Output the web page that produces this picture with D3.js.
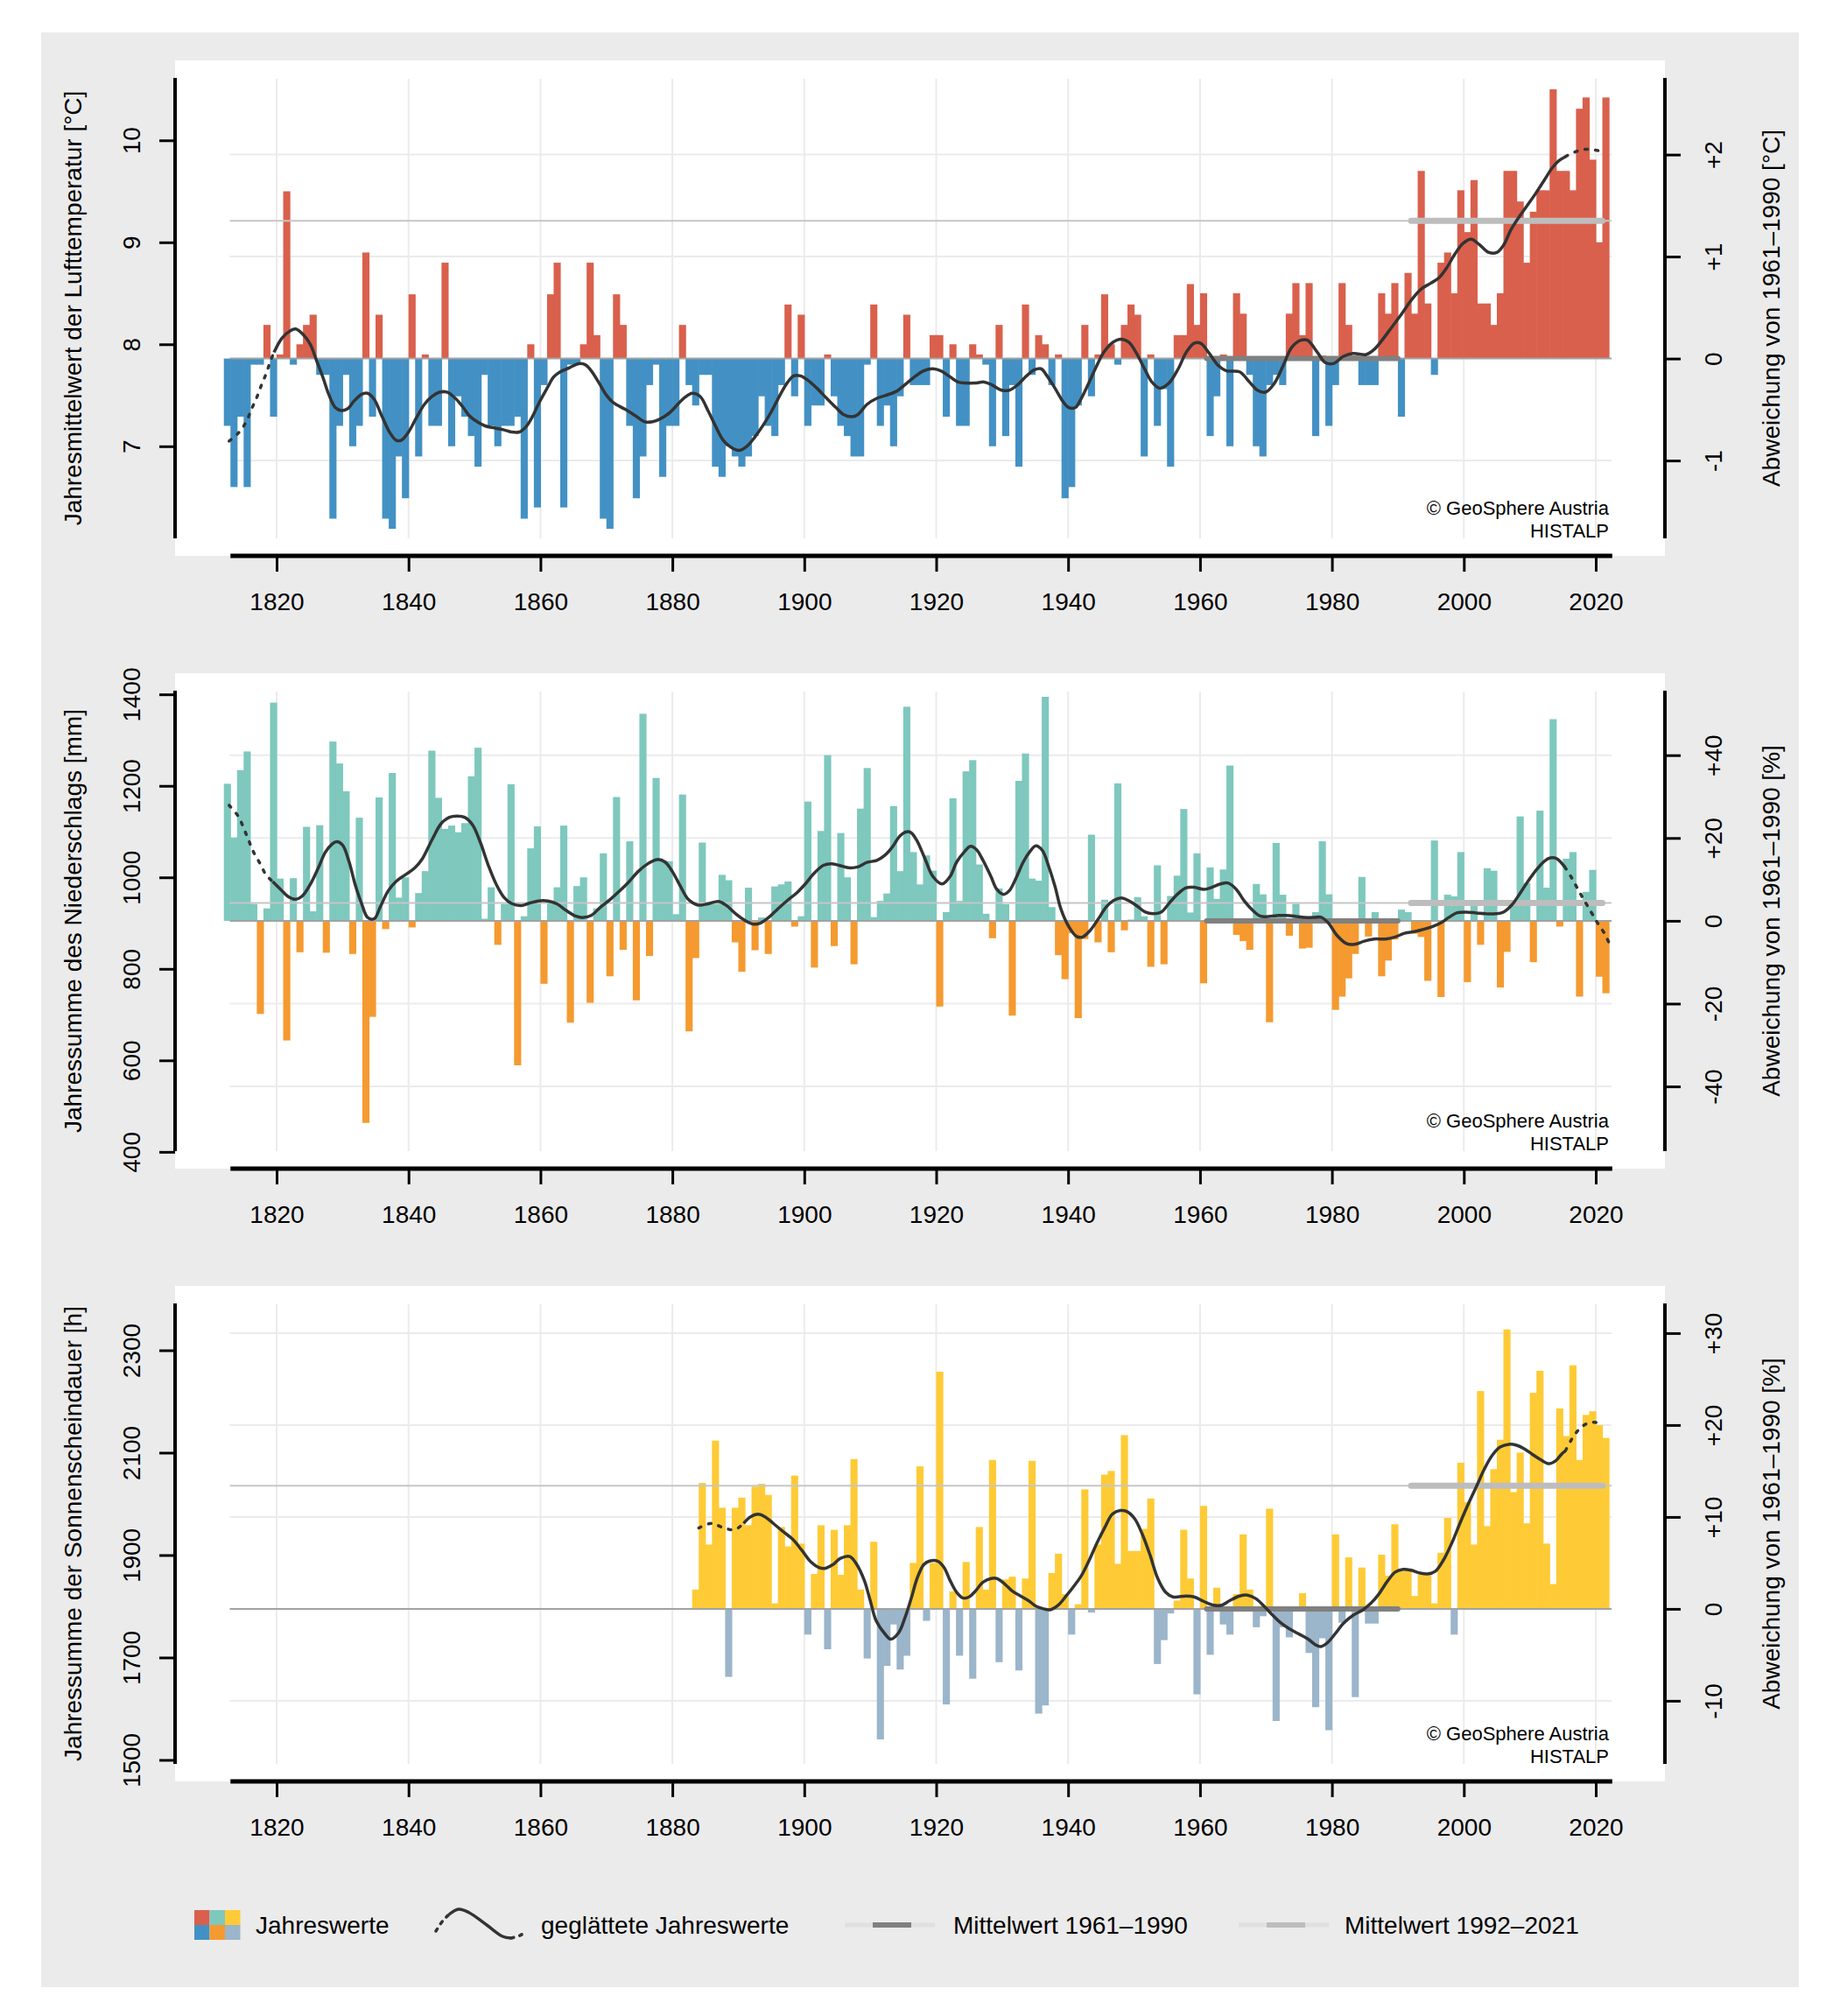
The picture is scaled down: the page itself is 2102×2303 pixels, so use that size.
<!DOCTYPE html>
<html><head><meta charset="utf-8">
<script src="https://cdn.jsdelivr.net/npm/d3@7"></script>
<style>body{margin:0;background:#fff} svg{display:block}</style>
</head><body>
<svg id="c" width="2102" height="2303"></svg>
<script>
// ---------------- DATA ----------------
const xTickYears = [1820,1840,1860,1880,1900,1920,1940,1960,1980,2000,2020];

// Temperature: deviation from 1961-1990 [°C], years 1813..2022
const tempFirstYear = 1813;
const tempAnom = [
 -0.66,-1.26,-0.57,-1.26,-0.06,-0.06,0.33,
 -0.57,0.04,1.64,-0.06,0.14,0.33,0.43,-0.16,-0.16,-1.57,
 -0.66,-0.16,-0.86,-0.66,1.04,-0.57,0.43,-1.57,-1.67,-0.96,
 -1.37,0.63,-0.96,0.04,-0.66,-0.66,0.94,-0.86,-0.37,-0.57,
 -0.76,-1.06,-0.16,-0.66,-0.86,-0.66,-0.66,-0.57,-1.57,0.14,
 -1.46,-0.26,0.63,0.94,-1.46,-0.06,-0.06,0.14,0.94,0.23,
 -1.57,-1.67,0.63,0.33,-0.66,-1.37,-0.96,-0.26,-0.06,-1.16,
 -0.66,-0.66,0.33,-0.26,-0.46,-0.16,-0.16,-1.06,-1.16,-0.86,
 -0.96,-1.06,-0.96,-0.76,-0.37,-0.66,-0.76,-0.26,0.53,-0.37,
 0.43,-0.66,-0.46,-0.46,0.04,-0.37,-0.66,-0.76,-0.96,-0.96,
 -0.06,0.53,-0.66,-0.46,-0.86,-0.37,0.43,-0.26,-0.26,-0.26,
 0.23,0.23,-0.57,0.14,-0.66,-0.66,0.14,0.04,-0.06,-0.86,
 0.33,-0.76,-0.26,-1.06,0.53,-0.16,0.23,0.14,-0.26,0.04,
 -1.37,-1.26,-0.46,0.33,-0.37,0.04,0.63,0.14,-0.06,0.33,
 0.53,0.43,-0.96,0.04,-0.66,-0.30,-1.06,0.23,0.23,0.73,
 0.33,0.64,-0.76,-0.37,0.04,-0.86,0.64,0.44,-0.16,-0.86,
 -0.96,-0.26,-0.16,-0.26,0.44,0.74,0.23,0.74,-0.76,0.03,
 -0.66,-0.26,0.74,0.33,0.03,-0.26,-0.26,-0.26,0.64,0.44,
 0.74,-0.57,0.84,0.44,1.84,0.54,-0.16,0.94,1.04,0.64,
 1.65,1.24,1.75,0.54,0.54,0.33,0.64,1.84,1.84,1.54,
 0.94,1.44,1.65,1.65,2.64,1.84,1.84,1.65,2.45,2.56,
 1.95,1.14,2.56];
const tempBase = 7.86;        // 1961-1990 mean [°C]
const tempRecentMean = 1.35;  // 1992-2021 mean, deviation
const tempSmooth = [
 [1812.8,-0.81],[1814.2,-0.73],[1815.4,-0.62],[1816.1,-0.51],[1817.0,-0.38],[1817.7,-0.26],[1818.4,-0.15],[1819.1,-0.02],
 [1819.6,0.06],[1820.8,0.20],[1822.0,0.27],[1822.9,0.29],[1824.1,0.23],[1825.1,0.14],[1826.0,-0.01],[1827.0,-0.18],
 [1827.9,-0.35],[1828.9,-0.48],[1829.8,-0.51],[1830.8,-0.49],[1831.7,-0.42],[1832.9,-0.35],[1833.8,-0.34],[1834.8,-0.40],
 [1836.0,-0.57],[1837.2,-0.73],[1838.1,-0.80],[1838.9,-0.80],[1840.0,-0.72],[1841.2,-0.58],[1842.4,-0.45],[1843.6,-0.37],
 [1844.7,-0.33],[1845.9,-0.33],[1847.1,-0.39],[1848.3,-0.48],[1849.2,-0.56],[1850.4,-0.62],[1851.6,-0.66],[1853.0,-0.68],
 [1854.5,-0.70],[1855.6,-0.72],[1856.8,-0.72],[1857.8,-0.67],[1858.7,-0.58],[1859.9,-0.42],[1861.1,-0.28],[1862.0,-0.18],
 [1863.0,-0.13],[1864.4,-0.09],[1865.8,-0.05],[1866.8,-0.06],[1867.7,-0.12],[1868.9,-0.24],[1869.9,-0.35],[1871.0,-0.43],
 [1872.9,-0.50],[1874.6,-0.57],[1875.8,-0.62],[1877.0,-0.62],[1878.2,-0.59],[1879.6,-0.53],[1880.8,-0.45],[1881.9,-0.38],
 [1883.0,-0.34],[1884.2,-0.37],[1885.4,-0.51],[1886.6,-0.67],[1887.7,-0.80],[1888.9,-0.87],[1890.1,-0.90],[1891.3,-0.86],
 [1892.5,-0.77],[1893.9,-0.64],[1895.1,-0.51],[1896.3,-0.36],[1897.5,-0.23],[1898.4,-0.17],[1899.4,-0.17],[1900.5,-0.21],
 [1901.9,-0.29],[1903.4,-0.39],[1904.8,-0.48],[1906.0,-0.55],[1907.2,-0.57],[1908.1,-0.55],[1909.5,-0.45],[1911.0,-0.39],
 [1912.4,-0.36],[1914.0,-0.32],[1915.2,-0.26],[1916.7,-0.18],[1918.1,-0.12],[1919.5,-0.10],[1920.7,-0.12],[1921.9,-0.17],
 [1923.3,-0.23],[1924.5,-0.24],[1925.9,-0.24],[1927.3,-0.23],[1928.5,-0.26],[1929.9,-0.31],[1931.1,-0.31],[1932.3,-0.26],
 [1933.7,-0.17],[1934.9,-0.11],[1935.9,-0.10],[1936.8,-0.17],[1938.0,-0.29],[1939.2,-0.42],[1940.1,-0.48],[1941.1,-0.48],
 [1942.0,-0.39],[1943.2,-0.23],[1944.2,-0.09],[1945.4,0.06],[1946.8,0.16],[1948.0,0.19],[1949.2,0.16],[1950.3,0.06],
 [1951.5,-0.09],[1952.7,-0.23],[1953.9,-0.29],[1955.3,-0.24],[1956.7,-0.10],[1957.9,0.06],[1959.1,0.15],[1960.1,0.15],
 [1961.3,0.06],[1962.8,-0.07],[1964.0,-0.12],[1966.0,-0.13],[1967.5,-0.23],[1968.7,-0.31],[1969.9,-0.33],[1971.2,-0.25],
 [1972.6,-0.07],[1973.9,0.11],[1975.3,0.18],[1976.3,0.18],[1977.8,0.06],[1979.0,-0.04],[1980.2,-0.05],[1981.7,0.02],
 [1983.2,0.05],[1985.2,0.04],[1986.4,0.09],[1987.6,0.18],[1989.1,0.31],[1990.6,0.44],[1992.0,0.57],[1993.5,0.68],
 [1995.0,0.74],[1996.2,0.79],[1997.4,0.89],[1998.7,1.03],[1999.9,1.13],[2001.1,1.17],[2002.3,1.12],[2003.8,1.04],
 [2005.0,1.04],[2006.0,1.11],[2007.2,1.27],[2008.5,1.40],[2009.7,1.51],[2010.9,1.62],[2012.2,1.75],[2013.4,1.87],
 [2014.4,1.94],[2015.4,1.98],[2016.6,2.02],[2018.1,2.05],[2019.3,2.05],[2021.0,2.03]];
const tempSolid = [1819.6, 2015.4];
const tempLeftTicks = [7,8,9,10];
const tempRightTicks = [-1,0,1,2];

// Precipitation: deviation from 1961-1990 [%], years 1813..2022
const precFirstYear = 1813;
const precAnom = [
 33.1,20.1,36.4,40.9,4.1,-22.5,3.0,
 52.7,10.2,-28.9,10.3,-7.6,22.7,2.3,23.1,-7.7,43.3,
 38.0,31.3,-8.0,24.9,-48.8,-23.2,29.8,-2.0,35.7,5.6,
 10.5,-1.6,6.7,12,41.1,29.7,22.2,23.0,21.4,23.6,
 34.9,41.8,0.5,8.1,-5.8,4.1,33.0,-34.9,1.1,17.5,
 22.8,-15.2,4.5,8.1,23.0,-24.6,8.4,10.5,-19.8,3,
 16.3,-13.4,29.9,-7.0,19.2,-19.2,50.0,-8.5,34.5,14.4,
 14.4,1.6,30.5,-26.7,-9.0,18.9,4.5,4.1,11.1,9.8,
 -5.2,-12.3,8.0,-7.1,0.8,-8.0,8.3,8.8,9.5,-1.4,
 1.1,28.8,-11.3,21.7,40.0,-6.1,21.2,10.5,-10.5,27.1,
 36.9,0.9,4.8,6.6,27.7,12,51.7,16.6,8.8,15.8,
 12.1,-20.7,2.1,29.6,4.8,36.1,38.8,13.6,1.7,-4.2,
 7.8,4.0,-22.9,33.8,40.4,10.2,9.7,54.1,3.3,-8.3,
 -14.1,-3.0,-23.5,-4.4,20.8,-5.2,5.1,-7.6,33.2,-2.3,
 0.3,5.7,1.1,-11.1,13.4,-10.5,6,10.9,27.0,2,
 16.3,-15.1,12.9,5.3,12.4,37.5,-3.4,-4.9,-7.0,8.9,
 6.4,-24.5,18.8,6.3,-3.6,4.1,-6.7,-6.5,2.1,19.2,
 6.4,-21.5,-18.3,-13.9,-8,10.6,-3.8,2.1,-13.4,-9.6,
 -4.5,2.7,2.1,-3.1,-3.9,-14.5,19.4,-18.4,6.3,5.9,
 16.6,-14.8,3.6,-5.8,12.7,12.1,-16.1,-7.5,4.1,25.2,
 9.1,-10.0,26.6,8.0,48.7,-1.4,15.0,16.6,-18.3,7.0,
 12.3,-13.5,-17.5];
const precBase = 905;         // 1961-1990 mean [mm]
const precRecentMean = 4.3;
const precSmooth = [
 [1812.8,27.9],[1814.2,25.2],[1815.1,22.0],[1815.8,19.3],[1816.5,16.6],[1817.5,13.8],[1818.4,11.1],[1819.4,9.5],
 [1820.6,7.6],[1821.8,5.8],[1822.9,5.2],[1823.9,6.0],[1825.1,8.8],[1826.3,12.7],[1827.4,16.6],[1828.4,18.5],
 [1829.1,19.1],[1830.0,18.3],[1831.0,14.2],[1831.9,8.8],[1832.9,4.1],[1833.8,0.8],[1834.8,0.5],[1835.7,3.3],
 [1836.9,7.2],[1838.1,9.5],[1839.5,11.1],[1840.9,12.7],[1842.1,15.0],[1843.6,19.7],[1845.0,23.6],[1846.2,25.0],
 [1847.3,25.3],[1848.5,25.0],[1849.7,23.2],[1850.9,18.9],[1852.1,13.4],[1853.3,8.8],[1854.5,5.6],[1855.6,4.2],
 [1857.1,3.7],[1858.2,4.2],[1859.7,4.8],[1861.1,4.8],[1862.5,4.1],[1863.9,2.5],[1865.4,1.1],[1866.5,0.8],
 [1867.7,1.3],[1869.1,3.3],[1870.6,5.2],[1872.0,7.2],[1873.4,9.4],[1874.8,11.9],[1876.3,13.8],[1877.7,14.8],
 [1878.9,14.2],[1880.0,11.9],[1881.2,8.4],[1882.4,5.2],[1883.9,3.8],[1885.4,4.1],[1887.0,4.7],[1888.2,3.7],
 [1889.6,1.7],[1891.1,0.0],[1892.3,-0.8],[1893.4,-0.5],[1894.6,0.8],[1896.0,2.9],[1897.5,5.0],[1898.9,6.8],
 [1900.1,8.8],[1901.5,11.5],[1902.9,13.4],[1904.1,13.8],[1905.3,13.4],[1906.7,12.8],[1908.1,13.0],[1909.5,14.1],
 [1911.0,14.6],[1912.2,15.8],[1913.3,17.7],[1914.5,20.5],[1915.5,21.5],[1916.2,21.3],[1917.1,19.3],[1918.3,15.0],
 [1919.5,10.7],[1920.9,8.9],[1922.1,10.7],[1923.1,14.2],[1924.3,16.7],[1925.2,18.0],[1926.1,17.2],[1927.1,14.6],
 [1928.3,10.7],[1929.2,7.6],[1930.2,6.4],[1931.1,7.3],[1932.1,10.3],[1933.2,14.2],[1934.2,16.7],[1935.1,18.1],
 [1936.1,17.0],[1937.0,13.4],[1938.0,8.4],[1938.9,2.9],[1940.1,-1.4],[1941.3,-3.8],[1942.2,-3.9],[1943.4,-2.2],
 [1944.6,0.5],[1945.8,3.4],[1947.0,5.0],[1948.2,5.5],[1949.4,4.7],[1950.6,3.4],[1951.7,2.1],[1952.9,1.7],
 [1954.1,2.1],[1955.4,4.4],[1956.7,6.6],[1957.9,8.0],[1959.1,8.1],[1960.6,7.6],[1961.8,8.1],[1963.1,8.9],
 [1964.3,9.1],[1965.5,7.6],[1966.7,4.8],[1968.0,2.5],[1969.2,1.1],[1970.7,1.1],[1971.9,1.3],[1973.1,1.3],
 [1974.4,1.1],[1975.8,0.8],[1977.3,0.8],[1978.3,0.9],[1979.5,-0.6],[1980.7,-3.4],[1982.2,-5.5],[1983.4,-5.7],
 [1984.9,-4.9],[1986.4,-4.4],[1988.1,-4.4],[1989.6,-3.9],[1991.0,-3.0],[1992.5,-2.6],[1994.0,-2.0],[1995.2,-1.4],
 [1996.5,-0.5],[1997.7,0.8],[1998.9,1.9],[2000.4,2.1],[2001.9,1.9],[2003.3,1.7],[2004.8,1.7],[2006.0,2.1],
 [2007.3,3.9],[2008.5,6.6],[2009.7,9.5],[2011.0,12.3],[2012.2,14.4],[2013.1,15.2],[2014.1,15.0],[2015.3,13.0],
 [2016.3,10.5],[2017.3,7.6],[2018.3,4.8],[2019.3,2.1],[2020.3,-0.6],[2021.3,-3.0],[2022.0,-5.3]];
const precSolid = [1819.4, 2015.3];
const precLeftTicks = [400,600,800,1000,1200,1400];
const precRightTicks = [-40,-20,0,20,40];

// Sunshine: deviation from 1961-1990 [%], years 1884..2022
const sunFirstYear = 1884;
const sunAnom = [
 2.1,13.7,7.0,18.3,11.0,-7.4,
 11.0,12.1,9.1,13.3,13.6,12.4,0.6,8.9,6.8,14.5,
 7.1,-2.8,3.8,9.1,-4.4,8.6,3.7,9.1,16.3,2.1,
 -5.4,7.3,-14.2,-6.2,-1.7,-6.6,-5.1,5.0,15.5,-1.3,
 5.0,25.8,-10.4,1.9,-5.1,5.1,-7.6,8.9,2.1,16.2,
 -5.8,3.2,3.5,-6.7,3.3,16.1,-11.4,-10.5,3.9,6.0,
 1.6,-2.8,0.5,13.0,-0.4,7.0,14.6,15.0,4.9,18.9,
 6.3,6.3,8.7,12.0,-6.0,-3.4,-0.5,0.9,8.6,3.3,
 -9.3,11.2,-5.0,2.3,-1.7,-2.8,1.6,8.1,2.1,-2.0,
 -0.8,10.9,-12.2,-2.0,-3.1,0.2,1.7,-4.8,-10.7,-3.2,
 -13.2,8.1,-1.5,5.6,-9.6,4.5,-1.6,-1.6,5.9,3.6,
 9.2,4.1,4.4,1.4,3.7,3.7,0.6,6.1,9.9,-2.8,
 15.9,11.6,7.0,23.7,9.0,15.2,18.4,30.4,12.7,17.0,
 9.3,23.5,25.9,7.1,2.7,21.8,18.8,26.5,16.2,21.1,
 21.5,20.0,18.6];
const sunBase = 1795;         // 1961-1990 mean [h]
const sunRecentMean = 13.4;
const sunSmooth = [
 [1884.0,8.8],[1885.9,9.3],[1887.5,8.9],[1889.4,8.6],[1890.8,9.3],[1891.8,10.0],[1893.0,10.3],[1894.1,10.0],
 [1895.3,9.3],[1896.8,8.4],[1898.2,7.6],[1899.6,6.4],[1901.0,5.1],[1902.2,4.5],[1903.1,4.4],[1904.3,4.8],
 [1905.5,5.5],[1906.9,5.7],[1907.9,4.9],[1909.1,3.1],[1910.0,0.9],[1910.9,-1.3],[1912.2,-2.7],[1913.1,-3.3],
 [1914.3,-2.6],[1915.2,-1.1],[1916.2,1.1],[1917.1,3.3],[1918.1,4.8],[1919.0,5.2],[1920.2,5.2],[1921.2,4.5],
 [1922.1,3.1],[1923.1,1.8],[1924.0,1.2],[1925.0,1.3],[1925.9,1.9],[1927.1,2.9],[1928.3,3.3],[1929.2,3.3],
 [1930.4,2.7],[1931.6,1.9],[1932.8,1.4],[1934.0,0.9],[1935.1,0.3],[1936.3,0.0],[1937.3,-0.1],[1938.5,0.4],
 [1939.7,1.4],[1940.8,2.4],[1942.0,3.6],[1943.2,5.3],[1944.4,7.2],[1945.6,8.9],[1946.7,10.3],[1947.9,10.7],
 [1948.9,10.6],[1950.1,9.8],[1951.2,8.2],[1952.4,5.9],[1953.6,3.3],[1954.8,1.8],[1955.9,1.3],[1957.9,1.4],
 [1959.1,1.3],[1960.6,0.8],[1962.1,0.4],[1963.3,0.4],[1964.5,0.9],[1966.0,1.4],[1967.2,1.5],[1968.5,1.1],
 [1969.7,0.3],[1970.9,-0.6],[1972.2,-1.5],[1973.4,-2.1],[1974.9,-2.7],[1976.4,-3.3],[1977.5,-3.9],[1978.3,-4.1],
 [1979.3,-3.7],[1980.5,-2.7],[1981.7,-1.6],[1983.2,-0.7],[1984.7,-0.1],[1985.9,0.6],[1987.1,1.6],[1988.4,3.0],
 [1989.6,4.0],[1990.8,4.3],[1992.0,4.2],[1993.3,3.9],[1994.5,3.8],[1995.7,4.1],[1996.9,5.3],[1998.2,7.2],
 [1999.4,9.3],[2000.6,11.3],[2001.9,13.3],[2003.1,15.2],[2004.3,16.7],[2005.5,17.6],[2006.8,17.9],[2008.0,17.8],
 [2009.2,17.4],[2010.4,16.8],[2011.7,16.2],[2012.9,15.8],[2013.9,16.1],[2014.9,16.9],[2015.4,17.2],[2016.3,18.4],
 [2017.3,19.4],[2018.5,20.1],[2019.8,20.3],[2021.0,20.1]];
const sunSolid = [1890.8, 2015.4];
const sunLeftTicks = [1500,1700,1900,2100,2300];
const sunRightTicks = [-10,0,10,20,30];

const refPeriod = [1961, 1990];
const recentPeriod = [1992, 2021];

const legendLabels = ["Jahreswerte", "geglättete Jahreswerte", "Mittelwert 1961–1990", "Mittelwert 1992–2021"];

// ---------------- DRAWING ----------------
const FONT = '"Liberation Sans", Arial, Helvetica, sans-serif';
const svg = d3.select('#c').attr('font-family', FONT);
const x = d3.scaleLinear().domain([1820, 2020]).range([316, 1823]);
const XL = x(1812.9), XR = x(2022.4);
const AXL = 200, AXR = 1902;

svg.append('rect').attr('x',0).attr('y',0).attr('width',2102).attr('height',2303).attr('fill','#fff');
svg.append('rect').attr('x',47).attr('y',37).attr('width',2008).attr('height',2233).attr('fill','#ebebeb');

const panels = [
 {off:0, zero:409.6, ppu:116.5, pct:false, base:tempBase, first:tempFirstYear, vals:tempAnom, pos:'#d9604c', neg:'#4391c4',
  recent:tempRecentMean, smooth:tempSmooth, solid:tempSolid, lt:tempLeftTicks, rt:tempRightTicks,
  ltitle:'Jahresmittelwert der Lufttemperatur [°C]', rtitle:'Abweichung von 1961–1990 [°C]'},
 {off:700, zero:1051.9, ppu:4.73, pct:true, base:precBase, first:precFirstYear, vals:precAnom, pos:'#7ec8be', neg:'#f59a30',
  recent:precRecentMean, smooth:precSmooth, solid:precSolid, lt:precLeftTicks, rt:precRightTicks,
  ltitle:'Jahressumme des Niederschlags [mm]', rtitle:'Abweichung von 1961–1990 [%]'},
 {off:1400, zero:1837.9, ppu:10.5, pct:true, base:sunBase, first:sunFirstYear, vals:sunAnom, pos:'#fecb36', neg:'#9bb5ca',
  recent:sunRecentMean, smooth:sunSmooth, solid:sunSolid, lt:sunLeftTicks, rt:sunRightTicks,
  ltitle:'Jahressumme der Sonnenscheindauer [h]', rtitle:'Abweichung von 1961–1990 [%]'}
];

panels.forEach(p => {
  const g = svg.append('g');
  const o = p.off;
  const yR = d3.scaleLinear().domain([0, 1]).range([p.zero, p.zero - p.ppu]);
  const unit = p.pct ? p.base / 100 : 1;
  const yL = d3.scaleLinear().domain([p.base, p.base + unit]).range([p.zero, p.zero - p.ppu]);
  const top = 89 + o, bot = 615 + o;

  g.append('rect').attr('x', AXL).attr('y', 69 + o).attr('width', AXR - AXL).attr('height', 566).attr('fill', '#fff');

  // grid
  g.selectAll('.vg').data(xTickYears).join('line')
    .attr('x1', d => x(d)).attr('x2', d => x(d)).attr('y1', 90 + o).attr('y2', bot)
    .attr('stroke', '#ebebeb').attr('stroke-width', 2);
  g.selectAll('.hg').data(p.rt.filter(d => d !== 0)).join('line')
    .attr('x1', XL).attr('x2', XR).attr('y1', d => yR(d)).attr('y2', d => yR(d))
    .attr('stroke', '#ebebeb').attr('stroke-width', 2);

  // bars
  const data = p.vals.map((v, i) => ({year: p.first + i, v}));
  g.append('g').selectAll('rect').data(data).join('rect')
    .attr('x', d => x(d.year - 1))
    .attr('width', d => x(d.year) - x(d.year - 1) + 0.6)
    .attr('y', d => Math.min(yR(d.v), p.zero))
    .attr('height', d => Math.abs(yR(d.v) - p.zero))
    .attr('fill', d => d.v >= 0 ? p.pos : p.neg);

  // thin reference lines
  g.append('line').attr('x1', XL).attr('x2', XR).attr('y1', yR(p.recent)).attr('y2', yR(p.recent))
    .attr('stroke', '#c6c6c6').attr('stroke-width', 2);
  g.append('line').attr('x1', XL).attr('x2', XR).attr('y1', p.zero).attr('y2', p.zero)
    .attr('stroke', '#a2a2a2').attr('stroke-width', 2);
  // period means
  g.append('line').attr('x1', x(refPeriod[0])).attr('x2', x(refPeriod[1])).attr('y1', p.zero).attr('y2', p.zero)
    .attr('stroke', '#808080').attr('stroke-width', 6).attr('stroke-linecap', 'round');
  g.append('line').attr('x1', x(recentPeriod[0])).attr('x2', x(recentPeriod[1])).attr('y1', yR(p.recent)).attr('y2', yR(p.recent))
    .attr('stroke', '#bdbdbd').attr('stroke-width', 7).attr('stroke-linecap', 'round');

  // smoothed line
  const line = d3.line().x(d => x(d[0])).y(d => yR(d[1])).curve(d3.curveCatmullRom.alpha(0.5));
  const head = p.smooth.filter(d => d[0] <= p.solid[0]);
  const body = p.smooth.filter(d => d[0] >= p.solid[0] && d[0] <= p.solid[1]);
  const tail = p.smooth.filter(d => d[0] >= p.solid[1]);
  [head, tail].forEach(seg => g.append('path').attr('d', line(seg)).attr('fill', 'none')
    .attr('stroke', '#333').attr('stroke-width', 3.5).attr('stroke-dasharray', '3 9').attr('stroke-linecap', 'round'));
  g.append('path').attr('d', line(body)).attr('fill', 'none').attr('stroke', '#333').attr('stroke-width', 3.5)
    .attr('stroke-linejoin', 'round');

  // axes
  const styleAxis = (ag) => {
    ag.attr('font-family', FONT).attr('font-size', 28);
    ag.select('.domain').remove();
    ag.selectAll('.tick line').attr('stroke', '#000').attr('stroke-width', 3);
    ag.selectAll('.tick text').attr('fill', '#000');
  };
  const la = g.append('g').attr('transform', `translate(${AXL},0)`)
    .call(d3.axisLeft(yL).tickValues(p.lt).tickSize(18).tickFormat(d3.format('d')));
  styleAxis(la);
  la.selectAll('.tick text').attr('x', null).attr('dy', null).attr('text-anchor', 'middle')
    .attr('transform', 'translate(-40,0) rotate(-90)');
  const ra = g.append('g').attr('transform', `translate(${AXR},0)`)
    .call(d3.axisRight(yR).tickValues(p.rt).tickSize(18).tickFormat(d => d > 0 ? '+' + d : String(d)));
  styleAxis(ra);
  ra.selectAll('.tick text').attr('x', null).attr('dy', null).attr('text-anchor', 'middle')
    .attr('transform', 'translate(65,0) rotate(-90)');
  g.append('line').attr('x1', AXL).attr('x2', AXL).attr('y1', top).attr('y2', bot).attr('stroke', '#000').attr('stroke-width', 4);
  g.append('line').attr('x1', AXR).attr('x2', AXR).attr('y1', top).attr('y2', bot).attr('stroke', '#000').attr('stroke-width', 4);

  const xa = g.append('g').attr('transform', `translate(0,${635 + o})`)
    .call(d3.axisBottom(x).tickValues(xTickYears).tickSize(18).tickFormat(d3.format('d')));
  styleAxis(xa);
  xa.selectAll('.tick text').attr('y', 62).attr('dy', null);
  g.append('line').attr('x1', x(1813)).attr('x2', x(2022.5)).attr('y1', 635 + o).attr('y2', 635 + o)
    .attr('stroke', '#000').attr('stroke-width', 5);

  // titles
  const cy = (top + bot) / 2;
  g.append('text').attr('transform', `translate(93,${cy}) rotate(-90)`).attr('text-anchor', 'middle')
    .attr('font-size', 28).text(p.ltitle);
  g.append('text').attr('transform', `translate(2033,${cy}) rotate(-90)`).attr('text-anchor', 'middle')
    .attr('font-size', 28).text(p.rtitle);

  // credits
  g.append('text').attr('x', 1838).attr('y', 588 + o).attr('text-anchor', 'end').attr('font-size', 22).text('© GeoSphere Austria');
  g.append('text').attr('x', 1838).attr('y', 614 + o).attr('text-anchor', 'end').attr('font-size', 22).text('HISTALP');
});

// ---------------- LEGEND ----------------
const lg = svg.append('g');
const ly = 2199;
const cellCols = [[panels[0].pos, panels[1].pos, panels[2].pos],[panels[0].neg, panels[1].neg, panels[2].neg]];
cellCols.forEach((row, r) => row.forEach((c, k) => {
  lg.append('rect').attr('x', 222 + k * 17.5).attr('y', 2182 + r * 17).attr('width', 17.5).attr('height', 17).attr('fill', c);
}));
lg.append('text').attr('x', 292).attr('y', ly + 10).attr('font-size', 28).text(legendLabels[0]);
// smoothed-line symbol
const sym = d3.line().curve(d3.curveCatmullRom);
lg.append('path').attr('d', sym([[498,2206],[506,2194],[513,2187]])).attr('fill','none').attr('stroke','#333')
  .attr('stroke-width',3.5).attr('stroke-dasharray','3 7').attr('stroke-linecap','round');
lg.append('path').attr('d', sym([[513,2187],[524,2181],[536,2185],[556,2199],[574,2212],[584,2214]])).attr('fill','none')
  .attr('stroke','#333').attr('stroke-width',3.5);
lg.append('path').attr('d', sym([[584,2214],[594,2211],[602,2206]])).attr('fill','none').attr('stroke','#333')
  .attr('stroke-width',3.5).attr('stroke-dasharray','3 7').attr('stroke-linecap','round');
lg.append('text').attr('x', 618).attr('y', ly + 10).attr('font-size', 28).text(legendLabels[1]);
// mean symbols
[[965, '#808080', 1089, legendLabels[2]], [1415, '#bdbdbd', 1536, legendLabels[3]]].forEach(([x0, col, tx, lab]) => {
  lg.append('line').attr('x1', x0).attr('x2', x0 + 103).attr('y1', ly).attr('y2', ly).attr('stroke', '#e0e0e0').attr('stroke-width', 5);
  lg.append('line').attr('x1', x0 + 32).attr('x2', x0 + 76).attr('y1', ly).attr('y2', ly).attr('stroke', col).attr('stroke-width', 6);
  lg.append('text').attr('x', tx).attr('y', ly + 10).attr('font-size', 28).text(lab);
});
</script>
</body></html>
